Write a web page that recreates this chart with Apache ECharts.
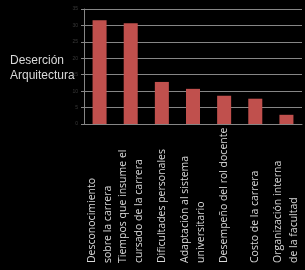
<!DOCTYPE html>
<html><head><meta charset="utf-8">
<script src="https://cdn.jsdelivr.net/npm/echarts@6/dist/echarts.min.js"></script>
<style>html,body{margin:0;padding:0;background:#000}#c{width:305px;height:270px}</style>
</head><body><div id="c"></div>
<script>
const categories = [
  "Desconocimiento\nsobre la carrera",
  "Tiempos que insume el\ncursado de la carrera",
  "Dificultades personales",
  "Adaptación al sistema\nuniversitario",
  "Desempeño del rol docente",
  "Costo de la carrera",
  "Organización interna\nde la facultad"
];
const values = [31.6, 30.7, 12.8, 10.7, 8.6, 7.7, 2.8];
const yTicks = [0, 5, 10, 15, 20, 25, 30, 35];
const axisTitle = "Deserción\nArquitectura";

const chart = echarts.init(document.getElementById('c'), null, {renderer: 'canvas'});
chart.setOption({
  backgroundColor: '#000',
  animation: false,
  grid: {left: 84, right: 3, top: 9, bottom: 146, containLabel: false},
  xAxis: {
    type: 'category',
    data: categories,
    axisLine: {show: true, lineStyle: {color: '#868686', width: 1}},
    axisTick: {show: false},
    axisLabel: {
      rotate: 90, interval: 0, margin: 139, align: 'left', verticalAlign: 'middle',
      color: '#d9d9d9', fontFamily: 'Open Sans', fontSize: 10.5, lineHeight: 16
    }
  },
  yAxis: {
    type: 'value',
    min: yTicks[0], max: yTicks[yTicks.length - 1], interval: 5,
    axisLine: {show: true, lineStyle: {color: '#868686', width: 1}},
    axisTick: {show: true, length: 3, lineStyle: {color: '#868686'}},
    splitLine: {show: true, lineStyle: {color: '#868686', width: 1}},
    axisLabel: {color: '#3a3a3a', fontSize: 5, margin: 6, fontFamily: 'Liberation Sans'}
  },
  graphic: [{
    type: 'text', left: 10, top: 53,
    style: {text: axisTitle, fill: '#d9d9d9', font: '12px "Liberation Sans"', lineHeight: 15}
  }],
  series: [{
    type: 'bar', data: values, barWidth: '45%',
    itemStyle: {color: '#c0504d'}
  }]
});
</script></body></html>
